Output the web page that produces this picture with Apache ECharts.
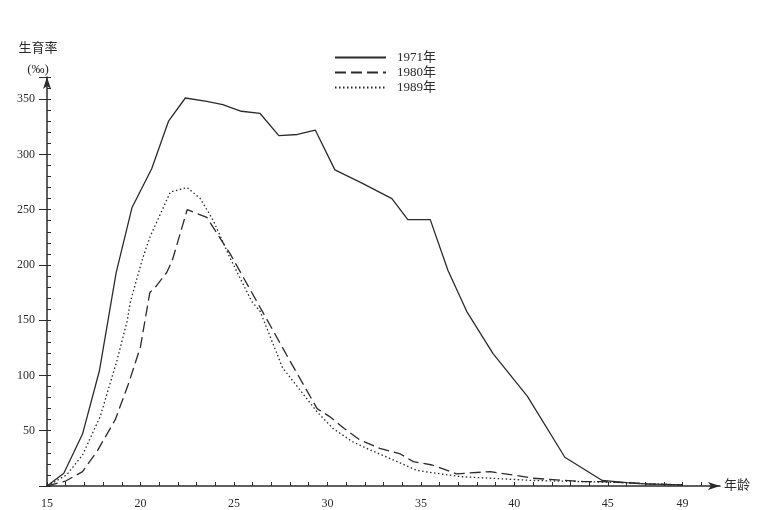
<!DOCTYPE html>
<html>
<head>
<meta charset="utf-8">
<script src="https://cdn.jsdelivr.net/npm/echarts@6/dist/echarts.min.js"></script>
<style>
html,body{margin:0;padding:0;background:#fff;}
#c{width:759px;height:510px;}
</style>
</head>
<body>
<div id="c"></div>
<script>
// Age-specific fertility rates (‰)
const seriesNames = ['1971年', '1980年', '1989年'];

const ages1971 = [15, 15.9, 16.9, 17.8, 18.7, 19.55, 20.6, 21.5, 22.4, 23.55, 24.4, 25.4, 26.4, 27.4, 28.4, 29.35, 30.4, 31.85, 33.45, 34.3, 35.5, 36.45, 37.45, 38.85, 40.7, 42.7, 44.7, 46, 47, 48, 49];
const rate1971 = [0, 11.5, 47, 104, 193, 252, 287, 330, 351, 348, 345, 339, 337, 317, 318, 322, 286, 274, 260, 241, 241, 195, 158, 120, 81, 26, 5, 3, 2, 1.5, 1];

const ages1980 = [15, 16, 16.9, 17.7, 18.65, 19.35, 20, 20.5, 20.8, 21.4, 21.7, 22.5, 23.55, 24.8, 26.75, 27.9, 29.45, 30.1, 30.9, 31.7, 32.8, 33.9, 34.6, 35.6, 36.9, 38.7, 39.9, 41, 43.7, 44.7, 46, 47, 48, 49];
const rate1980 = [0, 4.5, 13, 32, 60, 92, 126, 175, 180, 193, 204, 250, 243, 210, 151, 116, 70, 63, 52, 42, 34, 29, 22, 19, 11, 13, 10, 7, 4, 4, 3, 2, 1.5, 1];

const ages1989 = [15, 16.05, 16.9, 17.85, 18.75, 19.3, 19.45, 20.1, 20.5, 21.6, 22.5, 23.2, 23.9, 24.8, 25.95, 26.4, 27.6, 29.45, 30.3, 31.35, 32.1, 33.2, 34.8, 37.1, 41, 44.6, 46, 47, 48, 49];
const rate1989 = [0, 10, 28, 63, 114, 150, 166, 205, 225, 266, 270, 260, 240, 206, 167, 158, 107, 67, 52, 40, 34, 26, 14, 8.5, 5, 3.6, 3, 2, 1.5, 1];

const xTickLabels = [15, 20, 25, 30, 35, 40, 45, 49];
const yTickLabels = [50, 100, 150, 200, 250, 300, 350];

function pairs(xs, ys) { return xs.map((x, i) => [x, ys[i]]); }

const serif = "'Liberation Serif','DejaVu Serif','Noto Sans CJK SC',serif";
const ink = '#2b2b2b';

const chart = echarts.init(document.getElementById('c'), null, {renderer: 'canvas'});
chart.setOption({
  animation: false,
  backgroundColor: '#ffffff',
  grid: {left: 47, right: 39, top: 77, bottom: 22, containLabel: false},
  legend: {
    orient: 'vertical',
    left: 329, top: 46,
    itemWidth: 51, itemHeight: 14, itemGap: 2,
    itemStyle: {opacity: 0},
    textStyle: {fontFamily: serif, fontSize: 13, color: ink, padding: [0, 0, 0, 6]},
    data: seriesNames
  },
  xAxis: {
    type: 'value', min: 15, max: 51, interval: 1,
    name: '年龄', nameLocation: 'end', nameGap: 4,
    nameTextStyle: {fontFamily: serif, fontSize: 13, color: ink},
    axisLine: {show: true, lineStyle: {color: ink, width: 1.5}, symbol: ['none', 'arrow'], symbolSize: [6, 12]},
    axisTick: {show: true, inside: true, length: 4, lineStyle: {color: ink}},
    axisLabel: {
      margin: 12, fontFamily: serif, fontSize: 12, color: ink,
      formatter: v => xTickLabels.indexOf(v) >= 0 ? String(v) : '',
      showMaxLabel: false
    },
    splitLine: {show: false}
  },
  yAxis: [{
    type: 'value', min: 0, max: 370, interval: 10,
    axisLine: {show: true, lineStyle: {color: ink, width: 1.5}, symbol: ['none', 'arrow'], symbolSize: [6, 12]},
    axisTick: {show: true, inside: true, length: 4, lineStyle: {color: ink}},
    axisLabel: {show: false},
    splitLine: {show: false}
  }, {
    type: 'value', min: 0, max: 370, interval: 50, position: 'left',
    name: '生育率\n(‰)', nameLocation: 'end', nameGap: -3,
    nameTextStyle: {fontFamily: serif, fontSize: 13, color: ink, lineHeight: 21, align: 'center', padding: [0, 18, 0, 0]},
    axisLine: {show: false},
    axisTick: {show: true, inside: false, length: 8, lineStyle: {color: ink}},
    axisLabel: {
      margin: 12, fontFamily: serif, fontSize: 12, color: ink,
      formatter: v => yTickLabels.indexOf(v) >= 0 ? String(v) : ''
    },
    splitLine: {show: false}
  }],
  series: [{
    name: seriesNames[0], type: 'line', symbol: 'none', smooth: false,
    data: pairs(ages1971, rate1971),
    lineStyle: {color: ink, width: 1.3, type: 'solid'}, itemStyle: {color: ink}
  }, {
    name: seriesNames[1], type: 'line', symbol: 'none', smooth: false,
    data: pairs(ages1980, rate1980),
    lineStyle: {color: ink, width: 1.3, type: [11, 5]}, itemStyle: {color: ink}
  }, {
    name: seriesNames[2], type: 'line', symbol: 'none', smooth: false,
    data: pairs(ages1989, rate1989),
    lineStyle: {color: ink, width: 1.3, type: [1.5, 2.5]}, itemStyle: {color: ink}
  }]
});
</script>
</body>
</html>
